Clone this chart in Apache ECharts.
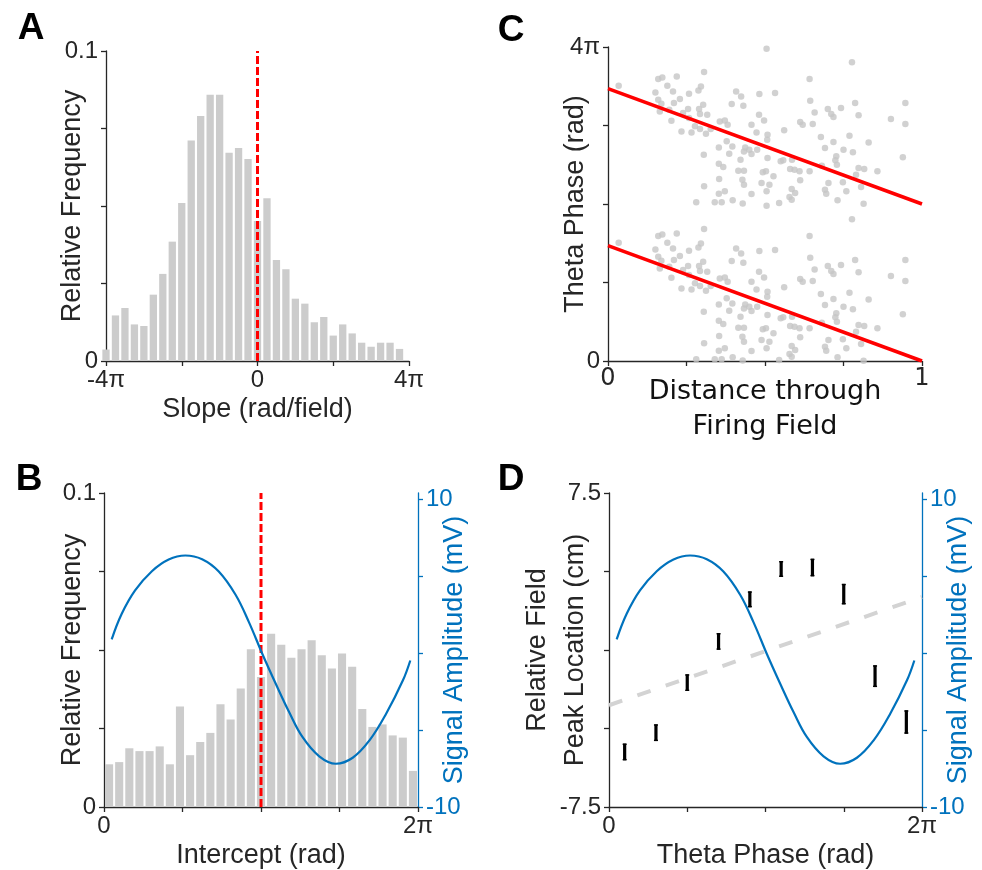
<!DOCTYPE html>
<html>
<head>
<meta charset="utf-8">
<script src="https://cdn.jsdelivr.net/npm/echarts@6/dist/echarts.min.js"></script>
<style>
  html, body { margin: 0; padding: 0; background: #ffffff; }
  #chart { width: 982px; height: 870px; }
</style>
</head>
<body>
<div id="chart"></div>
<script>
// ---- Panel A: distribution of precession slopes (x in units of π rad/field) ----
const slopeBinCenters = [-4, -3.75, -3.5, -3.25, -3, -2.75, -2.5, -2.25, -2, -1.75, -1.5, -1.25, -1, -0.75, -0.5, -0.25,
                         0, 0.25, 0.5, 0.75, 1, 1.25, 1.5, 1.75, 2, 2.25, 2.5, 2.75, 3, 3.25, 3.5, 3.75];
const slopeFreq = [0.0037, 0.0147, 0.0171, 0.0118, 0.0113, 0.0214, 0.0281, 0.0385, 0.0510, 0.0711, 0.0790, 0.0859,
                   0.0859, 0.0672, 0.0687, 0.0652, 0.0452, 0.0525, 0.0326, 0.0296, 0.0201, 0.0185, 0.0125, 0.0142,
                   0.0082, 0.0118, 0.0089, 0.0059, 0.0046, 0.0059, 0.0059, 0.0039];
const slopeMarker = 0;

// ---- Panel B: distribution of precession intercepts, 31 bins over [0, 2π] ----
const interceptFreq = [0.0136, 0.0143, 0.0187, 0.0178, 0.0178, 0.0193, 0.0136, 0.0320, 0.0165, 0.0207, 0.0236,
                       0.0327, 0.0279, 0.0377, 0.0502, 0.0414, 0.0552, 0.0517, 0.0475, 0.0502, 0.0531, 0.0483,
                       0.0441, 0.0489, 0.0447, 0.0312, 0.0255, 0.0263, 0.0228, 0.0221, 0.0115];
const interceptMarker = 1; // π

// ---- Reference theta wave (phase in units of π, amplitude in mV) ----
const thetaWaveX  = [0.049, 0.113, 0.198, 0.305, 0.412, 0.518, 0.625, 0.731, 0.838, 0.923, 1.008,
                     1.094, 1.179, 1.264, 1.371, 1.477, 1.584, 1.691, 1.797, 1.904, 1.951];
const thetaWaveMV = [0.89, 2.55, 4.07, 5.32, 6.08, 6.34, 6.10, 5.30, 3.79, 2.01, -0.04,
                     -1.99, -3.83, -5.45, -6.71, -7.19, -6.80, -5.67, -3.94, -1.77, -0.48];

// ---- Panel C: spikes of one field (distance through field, theta phase in units of π) ----
const spikeDistance = [
  0.034, 0.160, 0.173, 0.219, 0.306, 0.189, 0.207, 0.151, 0.296, 0.288, 0.258, 0.229, 0.210, 0.160, 0.170, 0.165,
  0.195, 0.202, 0.303, 0.290, 0.316, 0.293, 0.255, 0.239, 0.258, 0.234, 0.266, 0.277, 0.293, 0.312, 0.327, 0.356,
  0.372, 0.381, 0.408, 0.424, 0.394, 0.431, 0.482, 0.481, 0.457, 0.473, 0.378, 0.353, 0.396, 0.386, 0.437, 0.433,
  0.450, 0.457, 0.475, 0.305, 0.422, 0.353, 0.367, 0.415, 0.433, 0.354, 0.428, 0.433, 0.489, 0.493, 0.306, 0.372,
  0.353, 0.457, 0.340, 0.362, 0.281, 0.397, 0.429,
  0.505, 0.532, 0.497, 0.508, 0.507, 0.561, 0.642, 0.644, 0.658, 0.612, 0.620, 0.652, 0.700, 0.711, 0.718, 0.742,
  0.787, 0.798, 0.777, 0.678, 0.691, 0.718, 0.769, 0.830, 0.750, 0.780, 0.727, 0.724, 0.729, 0.901, 0.947, 0.947,
  0.939, 0.858, 0.798, 0.816, 0.790, 0.806, 0.748, 0.759, 0.702, 0.691, 0.695, 0.731, 0.814, 0.612, 0.642, 0.610,
  0.594, 0.580, 0.586, 0.550, 0.558, 0.508, 0.503, 0.527, 0.514, 0.505, 0.585, 0.596, 0.578, 0.585, 0.545, 0.681
];
const spikePhase = [
  1.506, 1.591, 1.612, 1.625, 1.680, 1.506, 1.434, 1.421, 1.498, 1.447, 1.404, 1.336, 1.286, 1.328, 1.277, 1.179,
  1.201, 1.061, 1.264, 1.209, 1.137, 1.146, 1.209, 1.158, 1.095, 0.925, 0.912, 0.989, 0.955, 0.895, 0.955, 1.052,
  1.065, 1.010, 1.434, 1.370, 1.273, 1.252, 1.400, 1.137, 1.010, 0.912, 0.798, 0.721, 0.734, 0.641, 0.721, 0.670,
  0.692, 0.636, 0.692, 0.628, 0.564, 0.513, 0.471, 0.424, 0.424, 0.318, 0.310, 0.246, 0.267, 0.403, 0.225, 0.161,
  0.132, 0.127, 0.021, 0.021, 0.021, 0.047, 0.005,
  1.977, 1.413, 1.065, 0.882, 0.819, 0.938, 1.591, 1.315, 1.167, 1.044, 1.010, 1.018, 1.209, 1.146, 1.107, 1.222,
  1.286, 1.129, 1.807, 0.853, 0.713, 0.789, 0.870, 0.785, 0.692, 0.658, 0.607, 0.556, 0.501, 1.082, 1.286, 1.018,
  0.594, 0.416, 0.458, 0.445, 0.373, 0.216, 0.276, 0.161, 0.267, 0.182, 0.132, 0.047, 0.003, 0.301, 0.416, 0.416,
  0.437, 0.445, 0.564, 0.543, 0.556, 0.585, 0.416, 0.352, 0.246, 0.161, 0.191, 0.140, 0.089, 0.055, 0.013, 0.488
];
const phaseCycle = 2; // each spike is drawn on two consecutive cycles
const fitDistance = [0, 1];
const fitPhase = [1.47, 0];

// ---- Panel D: field peak shift per theta-phase bin (phase in units of π, shift in cm) ----
const phaseBinCenters = [0.1, 0.3, 0.5, 0.7, 0.9, 1.1, 1.3, 1.5, 1.7, 1.9];
const peakShiftCm  = [-4.87, -3.95, -1.56, 0.41, 2.42, 3.87, 3.94, 2.67, -1.25, -3.44];
const peakShiftSem = [0.40, 0.40, 0.40, 0.40, 0.38, 0.38, 0.42, 0.49, 0.52, 0.56];
const trendPhase = [0, 2];
const trendCm = [-2.64, 2.53];

// ---- styling ----
const INK = '#262626';
const BLUE = '#0072BD';
const BAR_GREY = '#cccccc';
const DOT_GREY = '#c6c6c6';
const SANS = 'Liberation Sans, Arial, sans-serif';
const DEJAVU = 'DejaVu Sans, sans-serif';
const TICK_FS = 24;
const LABEL_FS = 27;

const pairs = (xs, ys) => xs.map((x, i) => [x, ys[i]]);
const near = (a, b) => Math.abs(a - b) < 1e-9;

function piLabel(v) {
  if (near(v, 0)) return '0';
  if (near(v, 1)) return 'π';
  if (near(v, -1)) return '-π';
  return (Math.round(v * 100) / 100) + 'π';
}

function baseAxis(extra) {
  const ax = {
    type: 'value',
    axisLine: { show: true, onZero: false, lineStyle: { color: INK, width: 1.3 } },
    axisTick: { show: true, inside: false, length: 5, lineStyle: { color: INK, width: 1.3 } },
    splitLine: { show: false },
    axisLabel: { color: INK, fontSize: TICK_FS, fontFamily: SANS, margin: 7 },
    nameLocation: 'middle',
    nameMoveOverlap: false,
    nameTextStyle: { color: INK, fontSize: LABEL_FS, fontFamily: SANS }
  };
  return Object.assign(ax, extra);
}

function showAt(values, fmt) {
  return (v) => values.some(t => near(v, t)) ? fmt(v) : '';
}

const grids = [
  { left: 106, top: 51, width: 303, height: 310 },   // A
  { left: 608, top: 47, width: 314, height: 314 },   // C
  { left: 104, top: 493, width: 314, height: 314 },  // B
  { left: 609, top: 493, width: 313, height: 314 }   // D
];

const xAxes = [
  baseAxis({ gridIndex: 0, min: -4, max: 4, interval: 2, name: 'Slope (rad/field)', nameGap: 35,
    axisLabel: { color: INK, fontSize: TICK_FS, fontFamily: SANS, margin: 7, formatter: showAt([-4, 0, 4], piLabel) } }),
  baseAxis({ gridIndex: 1, min: 0, max: 1, interval: 0.25, name: 'Distance through\nFiring Field', nameGap: 13,
    nameTextStyle: { color: '#111', fontSize: LABEL_FS, fontFamily: DEJAVU, lineHeight: 35 },
    axisLabel: { color: INK, fontSize: TICK_FS, fontFamily: DEJAVU, margin: 6, formatter: showAt([0, 1], v => String(v)) } }),
  baseAxis({ gridIndex: 2, min: 0, max: 2, interval: 0.5, name: 'Intercept (rad)', nameGap: 35,
    axisLabel: { color: INK, fontSize: TICK_FS, fontFamily: SANS, margin: 7, formatter: showAt([0, 2], piLabel) } }),
  baseAxis({ gridIndex: 3, min: 0, max: 2, interval: 0.5, name: 'Theta Phase (rad)', nameGap: 35,
    axisLabel: { color: INK, fontSize: TICK_FS, fontFamily: SANS, margin: 7, formatter: showAt([0, 2], piLabel) } })
];

const freqFmt = v => near(v, 0) ? '0' : String(Math.round(v * 1000) / 1000);
const blueRightAxis = (gi) => baseAxis({
  gridIndex: gi, position: 'right', min: -10, max: 10.4, interval: 5,
  name: 'Signal Amplitude (mV)', nameGap: 23,
  nameTextStyle: { color: BLUE, fontSize: LABEL_FS, fontFamily: SANS },
  axisLine: { show: true, onZero: false, lineStyle: { color: BLUE, width: 1.3 } },
  axisTick: { show: true, inside: false, length: 5, lineStyle: { color: BLUE, width: 1.3 }, customValues: [-10, -5, 0, 5, 10] },
  axisLabel: { color: BLUE, fontSize: TICK_FS, fontFamily: SANS, margin: 8, customValues: [-10, 10],
    formatter: v => (near(v, -10) || near(v, 10)) ? String(v) : '' }
});

const yAxes = [
  baseAxis({ gridIndex: 0, min: 0, max: 0.1, interval: 0.025, name: 'Relative Frequency', nameGap: 20,
    axisLabel: { color: INK, fontSize: TICK_FS, fontFamily: SANS, margin: 8, formatter: showAt([0, 0.1], freqFmt) } }),
  baseAxis({ gridIndex: 1, min: 0, max: 4, interval: 1, name: 'Theta Phase (rad)', nameGap: 19,
    axisLabel: { color: INK, fontSize: TICK_FS, fontFamily: SANS, margin: 8, formatter: showAt([0, 4], piLabel) } }),
  baseAxis({ gridIndex: 2, min: 0, max: 0.1, interval: 0.025, name: 'Relative Frequency', nameGap: 18,
    axisLabel: { color: INK, fontSize: TICK_FS, fontFamily: SANS, margin: 8, formatter: showAt([0, 0.1], freqFmt) } }),
  blueRightAxis(2),
  baseAxis({ gridIndex: 3, min: -7.5, max: 7.5, interval: 3.75, name: 'Relative Field\nPeak Location (cm)', nameGap: 14,
    nameTextStyle: { color: INK, fontSize: LABEL_FS, fontFamily: SANS, lineHeight: 38 },
    axisLabel: { color: INK, fontSize: TICK_FS, fontFamily: SANS, margin: 8, formatter: showAt([-7.5, 7.5], v => String(v)) } }),
  blueRightAxis(3)
];

const series = [
  // A
  { type: 'bar', xAxisIndex: 0, yAxisIndex: 0, data: pairs(slopeBinCenters, slopeFreq), barWidth: 7.3,
    itemStyle: { color: BAR_GREY }, silent: true },
  { type: 'line', xAxisIndex: 0, yAxisIndex: 0, data: [[slopeMarker, 0], [slopeMarker, 0.1]], symbol: 'none',
    lineStyle: { color: '#ff0000', width: 3, type: [8, 3] }, silent: true },
  // C
  { type: 'scatter', xAxisIndex: 1, yAxisIndex: 1, data: pairs(spikeDistance, spikePhase), symbol: 'circle', symbolSize: 6.5,
    itemStyle: { color: DOT_GREY }, silent: true },
  { type: 'scatter', xAxisIndex: 1, yAxisIndex: 1, data: pairs(spikeDistance, spikePhase.map(p => p + phaseCycle)),
    symbol: 'circle', symbolSize: 6.5, itemStyle: { color: DOT_GREY }, silent: true },
  { type: 'line', xAxisIndex: 1, yAxisIndex: 1, data: pairs(fitDistance, fitPhase), symbol: 'none',
    lineStyle: { color: '#ff0000', width: 3.5 }, silent: true },
  { type: 'line', xAxisIndex: 1, yAxisIndex: 1, data: pairs(fitDistance, fitPhase.map(p => p + phaseCycle)), symbol: 'none',
    lineStyle: { color: '#ff0000', width: 3.5 }, silent: true },
  // B
  { type: 'bar', xAxisIndex: 2, yAxisIndex: 2,
    data: interceptFreq.map((f, i) => [(i + 0.5) * 2 / interceptFreq.length, f]), barWidth: 8.1,
    itemStyle: { color: BAR_GREY }, silent: true },
  { type: 'line', xAxisIndex: 2, yAxisIndex: 2, data: [[interceptMarker, 0], [interceptMarker, 0.1]], symbol: 'none',
    lineStyle: { color: '#ff0000', width: 3, type: [8, 3] }, silent: true },
  { type: 'line', xAxisIndex: 2, yAxisIndex: 3, data: pairs(thetaWaveX, thetaWaveMV), symbol: 'none', smooth: 0.4,
    lineStyle: { color: BLUE, width: 2.2 }, silent: true },
  // D
  { type: 'line', xAxisIndex: 3, yAxisIndex: 5, data: pairs(thetaWaveX, thetaWaveMV), symbol: 'none', smooth: 0.4,
    lineStyle: { color: BLUE, width: 2.2 }, silent: true },
  { type: 'line', xAxisIndex: 3, yAxisIndex: 4, data: pairs(trendPhase, trendCm), symbol: 'none',
    lineStyle: { color: '#d3d3d3', width: 4, type: [14, 16] }, silent: true },
  { type: 'custom', xAxisIndex: 3, yAxisIndex: 4,
    data: phaseBinCenters.map((x, i) => [x, peakShiftCm[i], peakShiftSem[i]]),
    encode: { x: 0, y: 1 },
    renderItem: (params, api) => {
      const x = api.value(0), y = api.value(1), e = api.value(2);
      const top = api.coord([x, y + e]);
      const bot = api.coord([x, y - e]);
      const style = { stroke: '#000000', lineWidth: 3.2 };
      const cap = { stroke: '#000000', lineWidth: 1.4 };
      return { type: 'group', children: [
        { type: 'line', shape: { x1: top[0], y1: top[1], x2: bot[0], y2: bot[1] }, style },
        { type: 'line', shape: { x1: top[0] - 2, y1: top[1] + 0.7, x2: top[0] + 2, y2: top[1] + 0.7 }, style: cap },
        { type: 'line', shape: { x1: bot[0] - 2, y1: bot[1] - 0.7, x2: bot[0] + 2, y2: bot[1] - 0.7 }, style: cap }
      ] };
    },
    silent: true }
];

const panelLetter = (text, x, y) => ({
  type: 'text', x, y,
  style: { text, fill: '#000000', font: 'bold 37px "Liberation Sans", Arial, sans-serif', textAlign: 'center', textVerticalAlign: 'middle' }
});

const chart = echarts.init(document.getElementById('chart'), null, { renderer: 'canvas' });
chart.setOption({
  backgroundColor: '#ffffff',
  animation: false,
  grid: grids,
  xAxis: xAxes,
  yAxis: yAxes,
  series,
  graphic: [
    panelLetter('A', 31, 29),
    panelLetter('B', 29, 480),
    panelLetter('C', 511, 31),
    panelLetter('D', 511, 480)
  ]
});
</script>
</body>
</html>
